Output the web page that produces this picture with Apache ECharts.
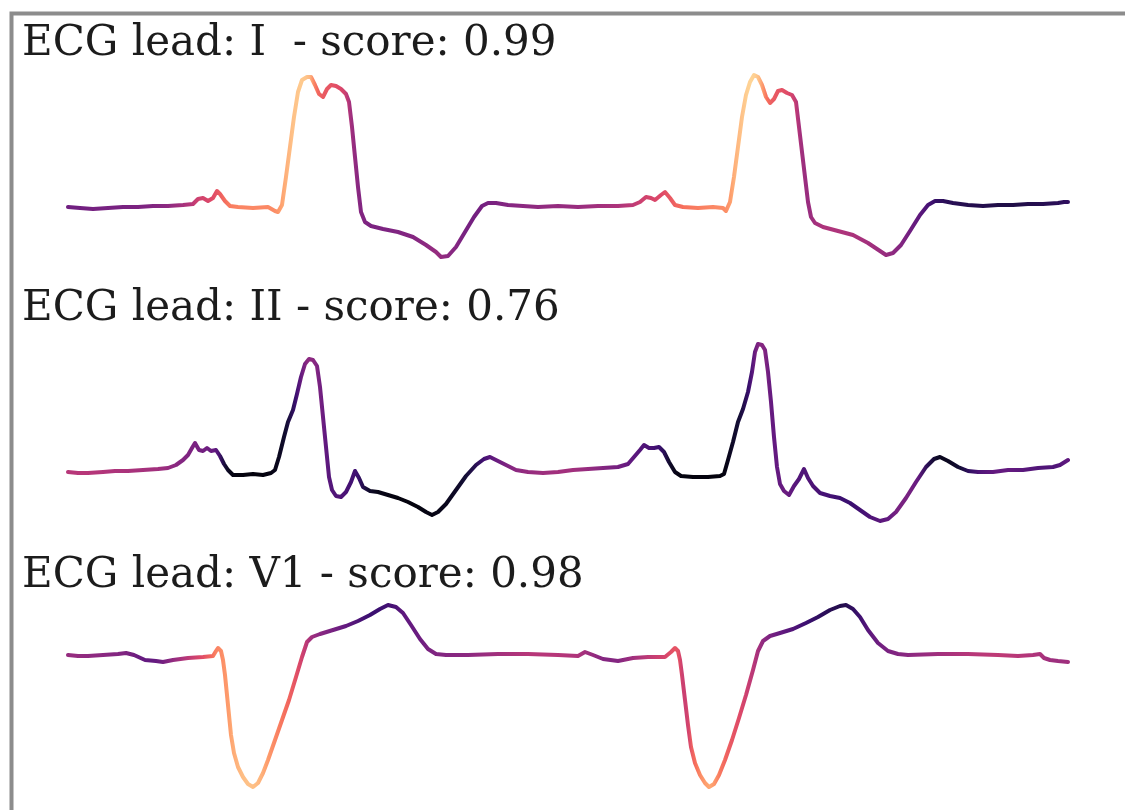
<!DOCTYPE html>
<html>
<head>
<meta charset="utf-8">
<title>ECG leads</title>
<script src="https://cdn.jsdelivr.net/npm/echarts@6/dist/echarts.min.js"></script>
<style>
  html, body { margin: 0; padding: 0; background: #fff; }
  #chart { width: 1125px; height: 810px; }
</style>
</head>
<body>
<div id="chart"></div>
<script>
// each point: [sample, amplitude, attribution score]
const leadI = [
  [0,0.00,0.33],[12,-0.01,0.33],[25,-0.02,0.34],[40,-0.01,0.35],[55,0.00,0.35],[70,0.00,0.36],[85,0.01,0.37],[100,0.01,0.4],
  [115,0.02,0.45],[125,0.03,0.5],[130,0.08,0.55],[135,0.09,0.57],[140,0.06,0.58],[145,0.09,0.6],[149,0.16,0.62],[152,0.13,0.64],
  [157,0.06,0.68],[162,0.01,0.72],[170,0.00,0.74],[185,-0.01,0.75],[200,0.00,0.75],[207,-0.04,0.76],[210,-0.05,0.77],[214,0.02,0.8],
  [218,0.30,0.83],[222,0.60,0.85],[226,0.90,0.87],[230,1.15,0.88],[234,1.27,0.89],[239,1.30,0.88],[243,1.30,0.85],[247,1.22,0.75],
  [251,1.13,0.68],[255,1.10,0.65],[259,1.18,0.64],[263,1.22,0.63],[268,1.21,0.62],[273,1.18,0.6],[278,1.13,0.55],[281,1.05,0.5],
  [284,0.80,0.45],[287,0.50,0.42],[290,0.20,0.4],[293,-0.05,0.38],[297,-0.15,0.37],[303,-0.19,0.36],[315,-0.22,0.36],[330,-0.25,0.37],
  [345,-0.30,0.38],[358,-0.38,0.4],[368,-0.45,0.42],[373,-0.50,0.42],[380,-0.49,0.4],[388,-0.40,0.38],[397,-0.25,0.35],[406,-0.10,0.34],
  [414,0.01,0.34],[420,0.04,0.35],[428,0.04,0.36],[440,0.02,0.38],[455,0.01,0.4],[470,0.00,0.41],[490,0.01,0.42],[510,0.00,0.43],
  [530,0.01,0.45],[550,0.01,0.48],[565,0.02,0.52],[572,0.05,0.55],[578,0.10,0.57],[583,0.09,0.58],[587,0.07,0.59],[593,0.12,0.6],
  [597,0.15,0.62],[602,0.09,0.64],[607,0.02,0.67],[615,0.00,0.7],[630,-0.01,0.73],[645,0.00,0.75],[655,-0.01,0.76],[658,-0.04,0.77],
  [662,0.05,0.8],[666,0.30,0.84],[670,0.60,0.86],[674,0.90,0.88],[678,1.12,0.9],[682,1.25,0.91],[686,1.32,0.9],[690,1.30,0.86],
  [694,1.22,0.78],[698,1.10,0.7],[702,1.04,0.66],[706,1.08,0.64],[710,1.16,0.63],[714,1.17,0.62],[719,1.14,0.6],[724,1.12,0.56],
  [728,1.05,0.5],[731,0.80,0.46],[734,0.55,0.44],[737,0.30,0.43],[740,0.05,0.43],[743,-0.10,0.44],[747,-0.16,0.46],[755,-0.20,0.48],
  [770,-0.24,0.48],[785,-0.28,0.47],[800,-0.36,0.45],[812,-0.44,0.43],[818,-0.48,0.42],[825,-0.46,0.4],[833,-0.38,0.37],[842,-0.24,0.32],
  [852,-0.08,0.27],[860,0.02,0.22],[867,0.06,0.18],[875,0.06,0.16],[885,0.04,0.15],[900,0.02,0.14],[915,0.01,0.14],[930,0.02,0.13],
  [945,0.02,0.13],[960,0.03,0.14],[975,0.03,0.15],[990,0.04,0.16],[996,0.05,0.17],[1000,0.05,0.17]
];

const leadII = [
  [0,0.00,0.5],[10,-0.01,0.5],[20,-0.01,0.5],[35,0.00,0.49],[47,0.01,0.48],[60,0.01,0.47],[75,0.02,0.46],[90,0.03,0.45],
  [100,0.04,0.43],[108,0.07,0.4],[115,0.12,0.38],[120,0.17,0.37],[124,0.24,0.36],[127,0.29,0.36],[131,0.22,0.35],[135,0.21,0.34],
  [139,0.24,0.33],[143,0.21,0.32],[148,0.22,0.3],[152,0.16,0.25],[156,0.08,0.15],[160,0.02,0.08],[165,-0.03,0.03],[175,-0.03,0.02],
  [185,-0.02,0.02],[195,-0.03,0.02],[203,-0.01,0.03],[207,0.02,0.04],[211,0.15,0.05],[216,0.35,0.07],[220,0.50,0.1],[225,0.62,0.15],
  [229,0.78,0.2],[233,0.95,0.28],[237,1.08,0.35],[241,1.13,0.4],[245,1.12,0.4],[249,1.06,0.38],[252,0.85,0.35],[255,0.55,0.33],
  [258,0.25,0.3],[261,-0.05,0.28],[264,-0.18,0.26],[268,-0.24,0.25],[273,-0.25,0.25],[278,-0.20,0.24],[283,-0.10,0.22],[287,0.01,0.22],
  [291,-0.06,0.2],[295,-0.15,0.15],[302,-0.19,0.08],[310,-0.20,0.04],[320,-0.23,0.03],[330,-0.26,0.02],[340,-0.30,0.02],[350,-0.35,0.02],
  [358,-0.40,0.03],[364,-0.43,0.03],[370,-0.40,0.04],[378,-0.32,0.05],[388,-0.18,0.07],[398,-0.04,0.1],[408,0.07,0.15],[416,0.13,0.22],
  [422,0.15,0.27],[430,0.11,0.32],[438,0.07,0.36],[448,0.02,0.4],[460,0.00,0.42],[475,-0.01,0.44],[490,0.00,0.45],[505,0.02,0.45],
  [520,0.03,0.42],[535,0.04,0.38],[550,0.05,0.34],[560,0.08,0.3],[566,0.15,0.28],[572,0.22,0.26],[576,0.27,0.25],[581,0.24,0.24],
  [586,0.24,0.22],[591,0.25,0.2],[596,0.20,0.15],[601,0.10,0.08],[607,0.00,0.04],[613,-0.04,0.02],[625,-0.05,0.02],[640,-0.05,0.02],
  [652,-0.04,0.02],[656,-0.02,0.03],[660,0.12,0.05],[665,0.30,0.08],[670,0.50,0.1],[675,0.63,0.14],[680,0.80,0.2],[684,1.00,0.28],
  [687,1.20,0.34],[690,1.28,0.38],[694,1.27,0.38],[697,1.22,0.36],[700,1.00,0.32],[703,0.70,0.3],[706,0.35,0.3],[709,0.05,0.3],
  [712,-0.12,0.3],[716,-0.19,0.32],[721,-0.23,0.3],[726,-0.14,0.27],[731,-0.07,0.25],[736,0.03,0.25],[740,-0.06,0.25],[745,-0.14,0.24],
  [752,-0.21,0.23],[762,-0.24,0.22],[772,-0.26,0.2],[782,-0.31,0.2],[792,-0.38,0.22],[802,-0.45,0.25],[812,-0.49,0.28],[820,-0.47,0.3],
  [828,-0.40,0.35],[838,-0.26,0.35],[848,-0.10,0.3],[858,0.05,0.15],[866,0.13,0.08],[872,0.15,0.05],[880,0.11,0.06],[890,0.05,0.1],
  [900,0.01,0.18],[910,0.00,0.25],[925,0.00,0.3],[940,0.02,0.3],[955,0.02,0.27],[970,0.04,0.25],[985,0.05,0.25],[992,0.07,0.27],
  [1000,0.12,0.3]
];

const leadV1 = [
  [0,0.00,0.42],[10,-0.01,0.42],[20,-0.01,0.41],[35,0.00,0.4],[50,0.01,0.38],[58,0.02,0.37],[66,0.00,0.34],[77,-0.05,0.3],
  [88,-0.06,0.3],[95,-0.07,0.33],[105,-0.05,0.4],[120,-0.03,0.5],[135,-0.02,0.6],[145,-0.01,0.68],[148,0.04,0.72],[150,0.07,0.74],
  [153,0.04,0.75],[155,-0.05,0.76],[157,-0.20,0.77],[159,-0.40,0.78],[161,-0.60,0.79],[163,-0.80,0.8],[166,-0.98,0.82],[170,-1.12,0.84],
  [175,-1.22,0.86],[180,-1.29,0.87],[185,-1.32,0.87],[190,-1.28,0.86],[195,-1.18,0.84],[200,-1.05,0.8],[207,-0.85,0.76],[214,-0.65,0.72],
  [221,-0.45,0.68],[228,-0.22,0.63],[234,-0.02,0.58],[239,0.13,0.52],[244,0.18,0.45],[252,0.21,0.4],[265,0.25,0.35],[278,0.29,0.3],
  [290,0.34,0.25],[302,0.40,0.2],[312,0.46,0.2],[320,0.50,0.22],[328,0.48,0.24],[335,0.42,0.28],[343,0.30,0.3],[352,0.16,0.32],
  [360,0.06,0.35],[368,0.01,0.37],[378,0.00,0.38],[400,0.00,0.4],[430,0.01,0.45],[460,0.01,0.5],[490,0.00,0.5],[510,-0.01,0.48],
  [517,0.03,0.45],[525,0.00,0.42],[535,-0.04,0.38],[550,-0.06,0.38],[565,-0.03,0.45],[580,-0.02,0.52],[597,-0.02,0.58],[603,0.03,0.62],
  [607,0.07,0.63],[610,0.04,0.62],[612,-0.05,0.58],[614,-0.20,0.55],[617,-0.45,0.55],[620,-0.70,0.58],[623,-0.92,0.65],[627,-1.08,0.7],
  [632,-1.20,0.76],[637,-1.28,0.8],[641,-1.32,0.82],[646,-1.29,0.78],[651,-1.20,0.72],[657,-1.05,0.67],[664,-0.85,0.63],[671,-0.63,0.6],
  [678,-0.40,0.55],[685,-0.15,0.5],[690,0.04,0.45],[695,0.14,0.4],[702,0.19,0.35],[712,0.22,0.3],[725,0.26,0.25],[738,0.32,0.2],
  [750,0.38,0.17],[762,0.45,0.15],[772,0.49,0.14],[778,0.50,0.15],[785,0.46,0.18],[792,0.38,0.22],[800,0.25,0.28],[810,0.12,0.33],
  [820,0.04,0.36],[830,0.01,0.38],[840,0.00,0.4],[870,0.01,0.45],[900,0.01,0.5],[930,0.00,0.52],[950,-0.01,0.5],[965,0.00,0.48],
  [972,0.01,0.47],[976,-0.03,0.45],[982,-0.05,0.44],[990,-0.06,0.44],[1000,-0.07,0.45]
];

const leadNames = ['I', 'II', 'V1'];
const titles = ['ECG lead: I  - score: 0.99', 'ECG lead: II - score: 0.76', 'ECG lead: V1 - score: 0.98'];

// matplotlib magma, 11 stops
const magma = ['#000004', '#140e36', '#3b0f70', '#641a80', '#8c2981', '#b73779',
  '#de4968', '#f7705c', '#fe9f6d', '#fecf92', '#fcfdbf'];

const hexToRgb = h => [1, 3, 5].map(i => parseInt(h.slice(i, i + 2), 16));

const magmaColor = s => {
  const p = Math.max(0, Math.min(1, s)) * 10;
  const i = Math.min(9, Math.floor(p));
  const f = p - i;
  const a = hexToRgb(magma[i]), b = hexToRgb(magma[i + 1]);
  const c = a.map((v, k) => Math.round(v + (b[k] - v) * f));
  return 'rgb(' + c.join(',') + ')';
};

const lineGradient = points => {
  const t0 = points[0][0];
  const t1 = points[points.length - 1][0];
  return new echarts.graphic.LinearGradient(0, 0, 1, 0,
    points.map(p => ({ offset: (p[0] - t0) / (t1 - t0), color: magmaColor(p[2]) })));
};

const leads = [leadI, leadII, leadV1];
const gridTops = [67, 332, 595];
const yRanges = [[-0.6, 1.4], [-0.6, 1.4], [-1.4, 0.6]];
const titleTops = [23, 288, 555];

const myChart = echarts.init(document.getElementById('chart'), null, { renderer: 'canvas' });

const option = {
  animation: false,
  backgroundColor: '#fff',
  title: titles.map((t, i) => ({
    text: t,
    left: 22,
    top: titleTops[i],
    padding: 0,
    textStyle: { fontFamily: 'DejaVu Serif', fontSize: 42, fontWeight: 'normal', color: '#1c1c1c' }
  })),
  grid: gridTops.map(top => ({ left: 68, width: 1000, top: top, height: 200 })),
  xAxis: leads.map((l, i) => ({ type: 'value', gridIndex: i, min: 0, max: 1000, show: false })),
  yAxis: leads.map((l, i) => ({ type: 'value', gridIndex: i, min: yRanges[i][0], max: yRanges[i][1], show: false })),
  series: leads.map((pts, i) => ({
    name: 'lead ' + leadNames[i],
    type: 'line',
    xAxisIndex: i,
    yAxisIndex: i,
    showSymbol: false,
    clip: false,
    lineStyle: { width: 4, color: lineGradient(pts), cap: 'round', join: 'round' },
    data: pts.map(p => [p[0], p[1]])
  })),
  graphic: [{
    // frame of the original figure, cut by the page on right and bottom
    type: 'rect',
    left: 9, top: 11,
    shape: { width: 1200, height: 900 },
    style: { fill: 'none', stroke: '#8c8c8c', lineWidth: 4 },
    silent: true
  }]
};

myChart.setOption(option);
</script>
</body>
</html>
